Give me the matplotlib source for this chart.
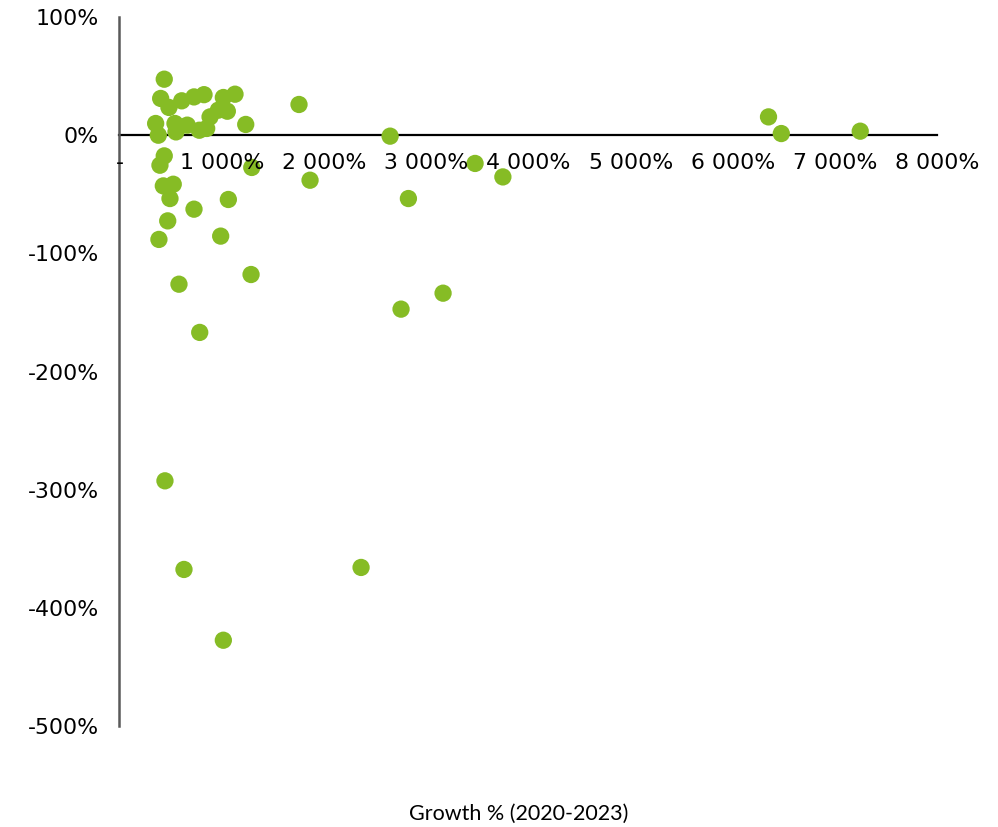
import matplotlib.pyplot as plt
from matplotlib.ticker import FuncFormatter

# growth 2020-2023 (%) vs. change (%)
growth = [438, 403, 484, 609, 729, 827, 1016, 1130, 354, 380,
          543, 553, 663, 781, 853, 886, 967, 1055, 1235, 1756,
          438, 396, 1294, 429, 526, 494, 729, 1065, 472, 386,
          990, 1287, 582, 785, 2647, 1864, 2826, 3478, 3750, 2754,
          3165, 6348, 6473, 7245, 445, 631, 2363, 1016]
change = [47.4, 31.1, 23.5, 29.1, 32.4, 34.3, 31.9, 34.7, 9.9, 0.0,
          9.9, 2.8, 8.5, 4.2, 5.7, 15.5, 21.2, 20.3, 9.1, 26.0,
          -17.5, -25.4, -27.3, -42.9, -41.5, -53.6, -62.6, -54.4, -72.5, -88.2,
          -85.4, -117.9, -126.1, -166.9, -0.8, -38.1, -53.6, -23.9, -35.3, -147.2,
          -133.7, 15.5, 1.4, 3.4, -292.5, -367.5, -365.8, -427.4]

x_ticks = [0, 1000, 2000, 3000, 4000, 5000, 6000, 7000, 8000]
y_ticks = [100, 0, -100, -200, -300, -400, -500]


def fmt_x(v, pos):
    if v == 0:
        return "-"
    return "{:,.0f}%".format(v).replace(",", " ")


def fmt_y(v, pos):
    return "{:.0f}%".format(v)


fig = plt.figure(figsize=(9.98, 8.27), dpi=100)
ax = fig.add_axes([0.1197, 0.1221, 0.8196, 0.8573])

ax.scatter(growth, change, s=155, color="#86bc25", edgecolors="none", zorder=3)

ax.set_xlim(0, 8000)
ax.set_ylim(-500, 100)
ax.set_xticks(x_ticks)
ax.set_yticks(y_ticks)
ax.xaxis.set_major_formatter(FuncFormatter(fmt_x))
ax.yaxis.set_major_formatter(FuncFormatter(fmt_y))

ax.spines["top"].set_visible(False)
ax.spines["right"].set_visible(False)
ax.spines["bottom"].set_position(("data", 0))
ax.spines["bottom"].set_color("black")
ax.spines["bottom"].set_linewidth(1.6)
ax.spines["bottom"].set_zorder(2)
ax.spines["left"].set_color("#595959")
ax.spines["left"].set_linewidth(1.8)

ax.tick_params(axis="both", length=0, labelsize=15.8, colors="black")
ax.tick_params(axis="x", pad=13)
ax.tick_params(axis="y", pad=15)
ax.xaxis.set_zorder(4)

fig.text(0.52, 0.004, "Growth % (2020-2023)", ha="center", va="bottom",
         fontsize=15.5, family="Lato", color="black")

fig.savefig("out.png", dpi=100)
